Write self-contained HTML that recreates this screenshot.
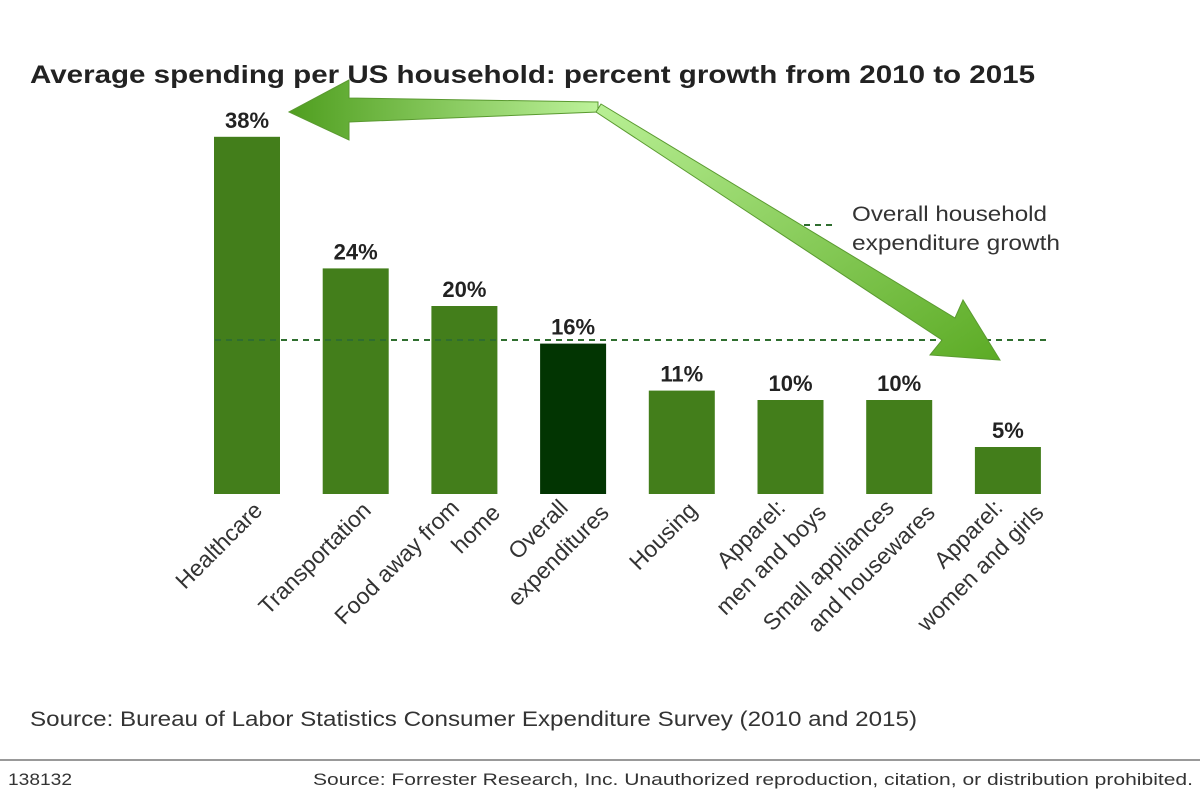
<!DOCTYPE html>
<html><head><meta charset="utf-8"><style>
body{margin:0;background:#fff;font-family:"Liberation Sans",sans-serif;}
svg{display:block}
</style></head><body>
<svg id="chart" width="1200" height="799" viewBox="0 0 1200 799" xmlns="http://www.w3.org/2000/svg" font-family="Liberation Sans, sans-serif">
<defs>
<linearGradient id="gl" x1="0" x2="1" y1="0" y2="0"><stop offset="0" stop-color="#4f9e1f"/><stop offset="1" stop-color="#bdf29a"/></linearGradient>
<linearGradient id="gd" x1="0" x2="1" y1="0" y2="1"><stop offset="0" stop-color="#b9f095"/><stop offset="1" stop-color="#5cab25"/></linearGradient>
</defs>
<text x="30" y="83" font-size="25" font-weight="bold" fill="#222" textLength="1005" lengthAdjust="spacingAndGlyphs">Average spending per US household: percent growth from 2010 to 2015</text>
<g id="bars"></g>
<line x1="215" x2="1048" y1="340" y2="340" stroke="#2f6e2f" stroke-width="2" stroke-dasharray="6,5"/>
<polygon points="289,112 349,80 349,98 598,102 598,112 349,122 349,140" fill="url(#gl)" stroke="#5a9a30" stroke-width="1"/>
<polygon points="601,104 955,318 963,300 1000,360 930,355 942,340 596,112" fill="url(#gd)" stroke="#5a9a30" stroke-width="1"/>
<line x1="804" x2="834" y1="225" y2="225" stroke="#2f6e2f" stroke-width="2" stroke-dasharray="6,5"/>
<text font-size="21" fill="#333"><tspan x="852" y="221" textLength="195" lengthAdjust="spacingAndGlyphs">Overall household</tspan><tspan x="852" y="250" textLength="208" lengthAdjust="spacingAndGlyphs">expenditure growth</tspan></text>
<text x="30" y="726" font-size="21" fill="#333" textLength="887" lengthAdjust="spacingAndGlyphs">Source: Bureau of Labor Statistics Consumer Expenditure Survey (2010 and 2015)</text>
<rect x="0" y="759" width="1200" height="2" fill="#999"/>
<text x="8" y="785" font-size="17" fill="#333" textLength="64" lengthAdjust="spacingAndGlyphs">138132</text>
<text x="313" y="785" font-size="17" fill="#333" textLength="880" lengthAdjust="spacingAndGlyphs">Source: Forrester Research, Inc. Unauthorized reproduction, citation, or distribution prohibited.</text>
</svg>
<script>
const categories=[["Healthcare"],["Transportation"],["Food away from","home"],["Overall","expenditures"],["Housing"],["Apparel:","men and boys"],["Small appliances","and housewares"],["Apparel:","women and girls"]];
const values=[38,24,20,16,11,10,10,5];
const valueLabels=["38%","24%","20%","16%","11%","10%","10%","5%"];
const highlight=[false,false,false,true,false,false,false,false];
const NS="http://www.w3.org/2000/svg";
const g=document.getElementById('bars');
const base=494, ppu=9.4, x0=214, step=108.7, bw=66;
function y(v){return base-v*ppu;}
function x(i){return x0+i*step;}
values.forEach((v,i)=>{
  const r=document.createElementNS(NS,'rect');
  r.setAttribute('x',x(i));r.setAttribute('y',y(v));r.setAttribute('width',bw);r.setAttribute('height',v*ppu);
  r.setAttribute('fill',highlight[i]?'#023502':'#437e1b');
  
  
  g.appendChild(r);
  const t=document.createElementNS(NS,'text');
  t.setAttribute('x',x(i)+bw/2);t.setAttribute('y',y(v)-9);t.setAttribute('text-anchor','middle');
  t.setAttribute('font-size','22');t.setAttribute('font-weight','bold');t.setAttribute('fill','#222');
  t.textContent=valueLabels[i];
  
  
  g.appendChild(t);
  const lines=categories[i];
  const n=lines.length;
  const ax=x(i)+bw-22-(n-1)*20.5, ay=base+12-(n-1)*2.5;
  const lt=document.createElementNS(NS,'text');
  lt.setAttribute('transform','translate('+ax+','+ay+') rotate(-45)');
  lt.setAttribute('text-anchor','end');lt.setAttribute('font-size','23');lt.setAttribute('fill','#333');
  
  
  lines.forEach((s,k)=>{
    const ts=document.createElementNS(NS,'tspan');
    ts.setAttribute('x',25.5*k);
    ts.setAttribute('y',32.5*k+8);
    ts.textContent=s;lt.appendChild(ts);
  });
  g.appendChild(lt);
});
</script>
</body></html>
